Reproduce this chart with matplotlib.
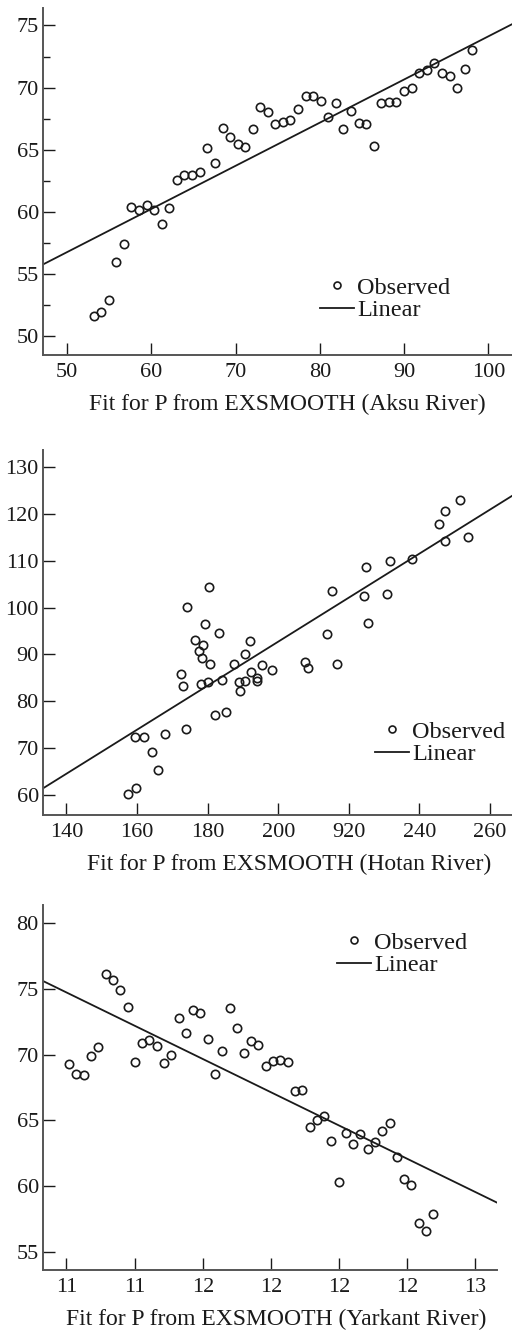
import matplotlib

matplotlib.use("Agg")
import matplotlib.pyplot as plt
import numpy as np
from matplotlib.lines import Line2D
from matplotlib.ticker import MultipleLocator

plt.rcParams.update({"font.family": ["Liberation Serif", "DejaVu Serif"]})

# --- Aksu River -------------------------------------------------------------
aksu_x = [53.16, 54.07, 54.94, 55.85, 56.76, 57.63, 58.54, 59.45, 60.32, 61.23,
          62.13, 63.04, 63.91, 64.82, 65.73, 66.64, 67.55, 68.46, 69.33, 70.24,
          71.15, 72.06, 72.92, 73.83, 74.70, 75.61, 76.52, 77.43, 78.34, 79.25,
          80.12, 81.03, 81.94, 82.81, 83.72, 84.62, 85.53, 86.40, 87.27, 88.18,
          89.09, 90.00, 90.91, 91.82, 92.73, 93.60, 94.51, 95.42, 96.32, 97.23,
          98.10]
aksu_y = [51.63, 51.98, 52.89, 55.99, 57.43, 60.43, 60.19, 60.59, 60.19, 59.04,
          60.35, 62.54, 62.94, 62.94, 63.24, 65.11, 63.96, 66.74, 65.99, 65.45,
          65.21, 66.66, 68.42, 68.02, 67.09, 67.22, 67.38, 68.29, 69.33, 69.33,
          68.96, 67.62, 68.74, 66.66, 68.10, 67.19, 67.06, 65.29, 68.74, 68.85,
          68.82, 69.76, 70.00, 71.20, 71.39, 71.95, 71.20, 70.94, 70.00, 71.52,
          73.05]
aksu_fit = (39.42, 0.347)          # intercept, slope
aksu_xlim = (47.15, 102.81)
aksu_ylim = (48.5, 76.4)
aksu_xticks = [50, 60, 70, 80, 90, 100]
aksu_yticks = [50, 55, 60, 65, 70, 75]

# --- Hotan River ------------------------------------------------------------
hotan_x = [157.48, 159.84, 159.37, 162.01, 164.28, 166.07, 167.87, 172.40,
           172.97, 174.11, 174.01, 176.47, 177.51, 178.36, 178.83, 179.21,
           178.17, 180.06, 180.81, 180.34, 182.23, 183.17, 184.12, 185.25,
           187.61, 188.84, 189.31, 190.64, 190.54, 192.15, 192.34, 193.94,
           194.04, 195.55, 198.38, 207.55, 208.40, 213.88, 215.30, 216.71,
           224.27, 224.93, 225.31, 230.69, 231.73, 237.78, 245.53, 247.23,
           247.13, 251.38, 253.74]
hotan_y = [60.20, 61.41, 72.45, 72.31, 69.25, 65.40, 73.02, 85.77, 83.28,
           100.09, 74.16, 93.03, 90.75, 89.26, 92.11, 96.45, 83.63, 84.20,
           88.05, 104.50, 77.15, 94.53, 84.49, 77.79, 88.05, 84.13, 82.14,
           90.11, 84.27, 92.96, 86.20, 85.06, 84.27, 87.69, 86.62, 88.33, 87.05,
           94.32, 103.65, 87.91, 102.58, 108.70, 96.81, 102.93, 110.06, 110.48,
           117.96, 120.67, 114.33, 122.95, 115.11]
hotan_fit = (-1.38, 0.4706)
hotan_xlim = (133.4, 266.2)
hotan_ylim = (55.7, 133.7)
hotan_xticks = [140, 160, 180, 200, 220, 240, 260]
hotan_xlabels = ["140", "160", "180", "200", "920", "240", "260"]
hotan_yticks = [60, 70, 80, 90, 100, 110, 120, 130]

# --- Yarkant River ----------------------------------------------------------
yark_x = [11.012, 11.044, 11.078, 11.109, 11.141, 11.173, 11.206, 11.237,
          11.269, 11.301, 11.334, 11.364, 11.397, 11.429, 11.461, 11.494,
          11.526, 11.557, 11.589, 11.622, 11.654, 11.686, 11.718, 11.751,
          11.783, 11.814, 11.845, 11.877, 11.909, 11.942, 11.974, 12.005,
          12.039, 12.070, 12.102, 12.134, 12.165, 12.199, 12.230, 12.262,
          12.294, 12.327, 12.359, 12.390, 12.422, 12.453, 12.486, 12.518,
          12.550, 12.582, 12.615]
yark_y = [69.26, 68.55, 68.45, 69.87, 70.56, 76.14, 75.66, 74.95, 73.60, 69.44,
          70.91, 71.12, 70.66, 69.34, 69.97, 72.79, 71.65, 73.40, 73.15, 71.17,
          68.55, 70.30, 73.58, 72.06, 70.13, 71.02, 70.74, 69.14, 69.52, 69.59,
          69.42, 67.26, 67.34, 64.47, 65.05, 65.33, 63.43, 60.28, 64.06, 63.20,
          63.93, 62.79, 63.35, 64.16, 64.82, 62.18, 60.51, 60.05, 57.18, 56.60,
          57.89]
yark_fit = (167.67, -8.448)
yark_xlim = (10.897, 12.895)
yark_ylim = (53.6, 81.4)
yark_xticks = [11.0, 11.3, 11.6, 11.9, 12.2, 12.5, 12.8]
yark_xlabels = ["11", "11", "12", "12", "12", "12", "13"]
yark_yticks = [55, 60, 65, 70, 75, 80]

W, H = 512, 1333
INK = "#1a1a1a"
TICK_FS = 16
LABEL_FS = 17


def px_box(left, right, top, bottom):
    return [left / W, 1 - bottom / H, (right - left) / W, (bottom - top) / H]


def panel(fig, box, x, y, fit, xlim, ylim, xticks, xlabels, yticks, river, leg_xy,
          label_x=0.5, minor_y=None):
    ax = fig.add_axes(box)
    ax.plot(x, y, ls="none", marker="o", ms=6, mfc="none", mec=INK, mew=1.2)
    xs = np.array(xlim)
    ax.plot(xs, fit[0] + fit[1] * xs, color=INK, lw=1.3)
    ax.set_xlim(xlim)
    ax.set_ylim(ylim)
    ax.set_xticks(xticks)
    if xlabels is not None:
        ax.set_xticklabels(xlabels)
    ax.set_yticks(yticks)
    if minor_y:
        ax.yaxis.set_minor_locator(MultipleLocator(minor_y))
    for s in ("top", "right"):
        ax.spines[s].set_visible(False)
    for s in ("left", "bottom"):
        ax.spines[s].set_color("#555555")
        ax.spines[s].set_linewidth(1.4)
    ax.tick_params(which="major", direction="in", length=8.5, width=1.0,
                   color=INK, labelsize=TICK_FS, labelcolor=INK)
    ax.tick_params(axis="x", pad=6)
    ax.tick_params(axis="y", pad=3)
    ax.tick_params(which="minor", direction="in", length=5, width=1.0, color=INK)
    ax.set_xlabel(f"Fit for P from EXSMOOTH ({river})", fontsize=LABEL_FS,
                  color=INK, labelpad=8)
    ax.xaxis.label.set_x(label_x)
    handles = [Line2D([], [], ls="none", marker="o", ms=5, mfc="none", mec=INK, mew=1.2),
               Line2D([], [], color=INK, lw=1.3)]
    ax.legend(handles, ["Observed", "Linear"], loc="center left",
              bbox_to_anchor=(leg_xy[0] / W, 1 - leg_xy[1] / H),
              bbox_transform=fig.transFigure, frameon=False, fontsize=17.5,
              borderpad=0, borderaxespad=0, handlelength=1.4,
              handletextpad=0.12, labelspacing=0.0, labelcolor=INK)
    return ax


fig = plt.figure(figsize=(W / 100, H / 100), dpi=100)

panel(fig, px_box(43, 512, 8, 355), aksu_x, aksu_y, aksu_fit, aksu_xlim,
      aksu_ylim, aksu_xticks, None, aksu_yticks, "Aksu River", (320, 299),
      label_x=0.52, minor_y=2.5)
panel(fig, px_box(43, 512, 450, 815), hotan_x, hotan_y, hotan_fit, hotan_xlim,
      hotan_ylim, hotan_xticks, hotan_xlabels, hotan_yticks, "Hotan River",
      (375, 743), label_x=0.525)
panel(fig, px_box(43, 497, 905, 1270), yark_x, yark_y, yark_fit, yark_xlim,
      yark_ylim, yark_xticks, yark_xlabels, yark_yticks, "Yarkant River",
      (337, 954), label_x=0.513)

fig.savefig("out.png", dpi=100)
